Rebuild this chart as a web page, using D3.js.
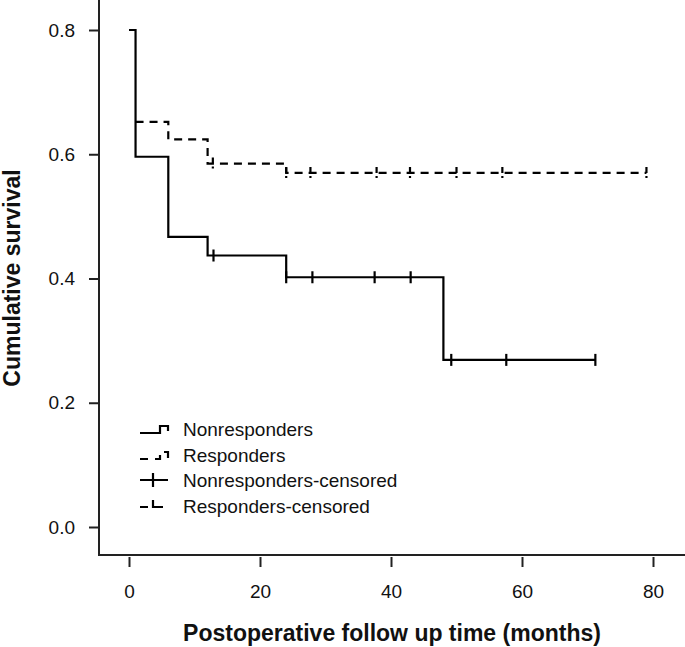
<!DOCTYPE html>
<html>
<head>
<meta charset="utf-8">
<script src="https://cdn.jsdelivr.net/npm/d3@7"></script>
<style>
  html, body { margin: 0; padding: 0; background: #fff; }
  svg { display: block; font-family: "Liberation Sans", Arial, sans-serif; }
</style>
</head>
<body>
<svg id="chart" width="685" height="647"></svg>
<script>
// ---- Data ----
const xTicks = [0, 20, 40, 60, 80];
const yTicks = [0.0, 0.2, 0.4, 0.6, 0.8];

// Nonresponders: step times and survival after each step
const nrStepTimes = [0, 1, 6, 12, 24, 48];
const nrStepSurv  = [0.80, 0.596, 0.467, 0.437, 0.402, 0.269];
const nrEndTime = 71.2;
const nrCensorTimes = [12.9, 24, 28, 37.5, 43, 49.2, 57.6, 71.2];

// Responders
const rStepTimes = [1, 6, 12, 24];
const rStepSurv  = [0.652, 0.624, 0.585, 0.570];
const rEndTime = 79;
const rCensorTimes = [12.8, 24, 27.7, 37.8, 42.9, 50, 57, 79];

const legendLabels = ["Nonresponders", "Responders", "Nonresponders-censored", "Responders-censored"];

// ---- Layout ----
const svg = d3.select("#chart");
const x = d3.scaleLinear().domain([0, 80]).range([129, 653]);
const y = d3.scaleLinear().domain([0, 0.8]).range([527, 30]);
const axisX0 = 99, axisY0 = 555;

// Axis lines
svg.append("line").attr("x1", axisX0).attr("x2", axisX0).attr("y1", 0).attr("y2", axisY0 + 1)
  .attr("stroke", "#222").attr("stroke-width", 2);
svg.append("line").attr("x1", axisX0 - 1).attr("x2", 685).attr("y1", axisY0).attr("y2", axisY0)
  .attr("stroke", "#222").attr("stroke-width", 2);

// Y axis
const yAxis = d3.axisLeft(y).tickValues(yTicks).tickFormat(d3.format(".1f"))
  .tickSize(10).tickPadding(14);
const gy = svg.append("g").attr("transform", `translate(${axisX0},0)`).call(yAxis);
gy.select(".domain").remove();
gy.selectAll(".tick line").attr("stroke", "#222").attr("stroke-width", 2);
gy.selectAll(".tick text").attr("font-size", 19).attr("fill", "#111")
  .attr("font-family", "Liberation Sans, Arial, sans-serif");

// X axis
const xAxis = d3.axisBottom(x).tickValues(xTicks).tickFormat(d3.format("d"))
  .tickSize(10).tickPadding(18);
const gx = svg.append("g").attr("transform", `translate(0,${axisY0 + 2})`).call(xAxis);
gx.select(".domain").remove();
gx.selectAll(".tick line").attr("stroke", "#222").attr("stroke-width", 2);
gx.selectAll(".tick text").attr("font-size", 19).attr("fill", "#111")
  .attr("font-family", "Liberation Sans, Arial, sans-serif");

// Axis titles
svg.append("text").attr("x", 392).attr("y", 641).attr("text-anchor", "middle")
  .attr("font-size", 23).attr("font-weight", "bold").attr("fill", "#111")
  .text("Postoperative follow up time (months)");
svg.append("text").attr("transform", "translate(20,278) rotate(-90)").attr("text-anchor", "middle")
  .attr("font-size", 23).attr("font-weight", "bold").attr("fill", "#111")
  .text("Cumulative survival");

// ---- Step curves ----
function stepPoints(times, surv, endTime) {
  const pts = [];
  for (let i = 0; i < times.length; i++) {
    if (i > 0) pts.push([times[i], surv[i - 1]]);
    pts.push([times[i], surv[i]]);
  }
  pts.push([endTime, surv[surv.length - 1]]);
  return pts;
}
function survAt(times, surv, t) {
  let v = surv[0];
  for (let i = 0; i < times.length; i++) if (t >= times[i]) v = surv[i];
  return v;
}
const line = d3.line().x(d => x(d[0])).y(d => y(d[1]));

const dash = "8,6";

svg.append("path").datum(stepPoints(rStepTimes, rStepSurv, rEndTime))
  .attr("d", line).attr("fill", "none").attr("stroke", "#000")
  .attr("stroke-width", 2.2).attr("stroke-dasharray", dash);

svg.append("path").datum(stepPoints(nrStepTimes, nrStepSurv, nrEndTime))
  .attr("d", line).attr("fill", "none").attr("stroke", "#000")
  .attr("stroke-width", 2.2);

// Censor marks
svg.append("g").selectAll("line").data(nrCensorTimes).join("line")
  .attr("x1", d => x(d)).attr("x2", d => x(d))
  .attr("y1", d => y(survAt(nrStepTimes, nrStepSurv, d)) - 6)
  .attr("y2", d => y(survAt(nrStepTimes, nrStepSurv, d)) + 6)
  .attr("stroke", "#000").attr("stroke-width", 2.2);

svg.append("g").selectAll("line").data(rCensorTimes).join("line")
  .attr("x1", d => x(d)).attr("x2", d => x(d))
  .attr("y1", d => y(survAt(rStepTimes, rStepSurv, d)) - 6)
  .attr("y2", d => y(survAt(rStepTimes, rStepSurv, d)) + 5)
  .attr("stroke", "#000").attr("stroke-width", 2.2).attr("stroke-dasharray", "6,3,2,20");

// ---- Legend ----
const legY = [429, 455, 480, 506];
const lg = svg.append("g");
legendLabels.forEach((lab, i) => {
  lg.append("text").attr("x", 183).attr("y", legY[i]).attr("dy", "0.35em")
    .attr("font-size", 19).attr("fill", "#111").text(lab);
});
// symbol 1: solid step
lg.append("path").attr("d", `M140,${legY[0] + 4}H160V${legY[0] - 3}H168V${legY[0] + 2}`)
  .attr("fill", "none").attr("stroke", "#000").attr("stroke-width", 2.2);
// symbol 2: dashed step
lg.append("path").attr("d", `M140,${legY[1] + 4}H160V${legY[1] - 3}H168V${legY[1] + 3}`)
  .attr("fill", "none").attr("stroke", "#000").attr("stroke-width", 2.2)
  .attr("stroke-dasharray", "8,7,9,7,10");
// symbol 3: line + cross
lg.append("path").attr("d", `M140,${legY[2]}H168M153,${legY[2] - 7}V${legY[2] + 7}`)
  .attr("fill", "none").attr("stroke", "#000").attr("stroke-width", 2.2);
// symbol 4: dashed with censor
lg.append("path").attr("d", `M140,${legY[3] + 1}H148M153,${legY[3] - 6}V${legY[3] + 1}H163`)
  .attr("fill", "none").attr("stroke", "#000").attr("stroke-width", 2.2);
</script>
</body>
</html>
